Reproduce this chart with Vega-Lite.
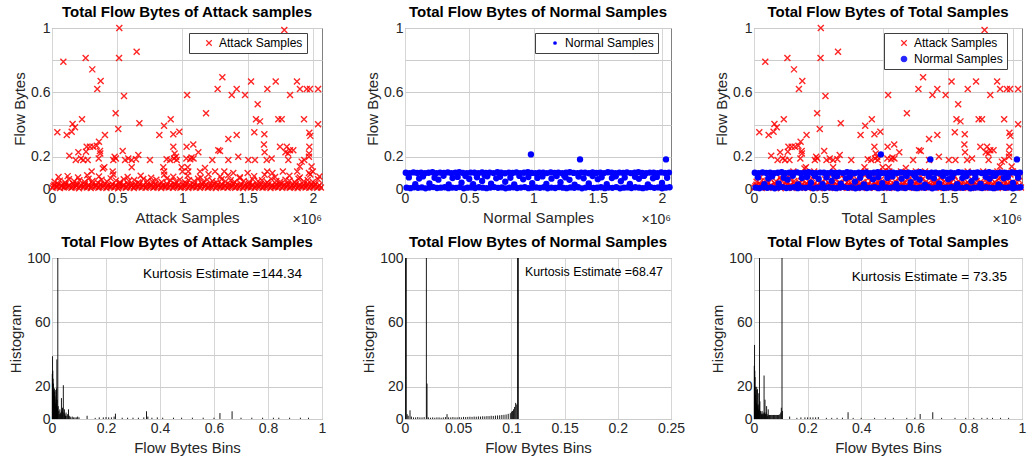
{
"$schema": "https://vega.github.io/schema/vega-lite/v6.json",
"padding": {"left": 8, "top": 4, "right": 0, "bottom": 0},
"config": {
  "font": "Liberation Sans",
  "view": {"stroke": "#808080", "strokeWidth": 1},
  "title": {"fontSize": 15, "fontWeight": "bold", "color": "#000000", "offset": 1},
  "axis": {"domain": false, "grid": true, "gridColor": "#d6d6d6", "gridOpacity": 1, "gridWidth": 1, "ticks": false, "labelFontSize": 14, "labelColor": "#262626", "titleFontSize": 15, "titleFontWeight": "normal", "titleColor": "#262626", "labelFlush": false, "labelOverlap": false},
  "axisX": {"labelPadding": 2, "titlePadding": 5},
  "axisY": {"labelPadding": 2, "titlePadding": 3, "grid": true, "gridColor": "#cccccc"},
  "legend": {"orient": "none", "legendY": 5, "padding": 4, "strokeColor": "#404040", "fillColor": "#ffffff", "labelFontSize": 12, "labelColor": "#000000", "symbolSize": 30, "symbolStrokeWidth": 1.2, "rowPadding": 4, "symbolOffset": 10, "labelOffset": 4}
},
"data": {"values": "s,x,y\na,0.516,1.0\na,0.649,0.853\na,0.087,0.791\na,0.258,0.814\na,0.514,0.814\na,0.309,0.743\na,0.373,0.671\na,0.347,0.621\na,0.552,0.578\na,1.036,0.584\na,0.488,0.47\na,0.23,0.433\na,0.158,0.404\na,0.176,0.383\na,0.67,0.408\na,0.508,0.373\na,0.041,0.352\na,0.113,0.335\na,0.151,0.356\na,0.406,0.335\na,0.859,0.393\na,0.91,0.433\na,0.823,0.335\na,0.93,0.34\na,0.976,0.356\na,0.36,0.294\na,0.343,0.269\na,0.266,0.263\na,0.291,0.263\na,0.317,0.263\na,0.368,0.236\na,0.202,0.228\na,0.261,0.232\na,0.37,0.22\na,0.542,0.236\na,0.133,0.207\na,0.662,0.211\na,0.93,0.263\na,0.94,0.22\na,0.951,0.2\na,0.182,0.18\na,0.222,0.19\na,0.24,0.18\na,0.274,0.18\na,0.358,0.19\na,0.47,0.18\na,0.49,0.19\na,0.48,0.2\na,0.56,0.18\na,0.585,0.19\na,0.611,0.18\na,0.644,0.185\na,0.751,0.18\na,0.879,0.185\na,0.905,0.18\na,0.935,0.19\na,0.956,0.18\na,1.06,0.185\na,0.401,0.135\na,0.39,0.128\na,0.465,0.108\na,0.611,0.135\na,0.853,0.135\na,0.86,0.108\na,0.994,0.135\na,1.0,0.108\na,0.304,0.108\na,1.781,0.988\na,1.306,0.694\na,1.27,0.621\na,1.416,0.621\na,1.378,0.584\na,1.48,0.584\na,1.526,0.667\na,1.651,0.621\na,1.715,0.667\na,1.878,0.667\na,1.901,0.621\na,1.953,0.621\na,1.978,0.621\na,2.04,0.621\na,1.825,0.584\na,1.577,0.526\na,1.181,0.47\na,1.564,0.433\na,1.595,0.42\na,1.735,0.433\na,1.761,0.433\na,1.932,0.433\na,2.04,0.402\na,1.551,0.352\na,1.628,0.34\na,1.973,0.35\na,1.98,0.33\na,1.352,0.31\na,1.416,0.335\na,1.032,0.263\na,1.083,0.277\na,1.122,0.228\na,1.275,0.24\na,1.288,0.236\na,1.625,0.277\na,1.63,0.228\na,1.748,0.263\na,1.8,0.263\na,1.825,0.24\na,1.85,0.24\na,1.79,0.228\na,1.81,0.22\na,1.973,0.263\na,1.97,0.22\na,1.03,0.19\na,1.07,0.195\na,1.085,0.19\na,1.229,0.18\na,1.352,0.18\na,1.428,0.2\na,1.505,0.18\na,1.556,0.18\na,1.646,0.18\na,1.684,0.19\na,1.812,0.18\na,1.914,0.17\na,1.934,0.18\na,1.97,0.2\na,1.04,0.135\na,1.045,0.108\na,1.135,0.108\na,1.173,0.13\na,1.25,0.108\na,1.321,0.108\na,1.39,0.1\na,1.5,0.1\na,1.65,0.108\na,1.69,0.1\na,1.77,0.108\na,1.88,0.108\na,1.97,0.1\na,2.0,0.108\na,1.99,0.14\na,1.9,0.14\na,0.004,0.008\na,0.032,0.012\na,0.061,0.006\na,0.09,0.01\na,0.118,0.013\na,0.149,0.007\na,0.178,0.011\na,0.207,0.005\na,0.239,0.012\na,0.268,0.009\na,0.297,0.006\na,0.327,0.013\na,0.356,0.008\na,0.388,0.011\na,0.417,0.006\na,0.446,0.012\na,0.478,0.009\na,0.507,0.005\na,0.536,0.012\na,0.566,0.008\na,0.598,0.011\na,0.627,0.006\na,0.656,0.013\na,0.688,0.009\na,0.717,0.007\na,0.746,0.012\na,0.777,0.008\na,0.806,0.011\na,0.837,0.006\na,0.866,0.013\na,0.895,0.009\na,0.927,0.007\na,0.956,0.012\na,0.985,0.008\na,1.016,0.011\na,1.045,0.006\na,1.076,0.013\na,1.105,0.009\na,1.134,0.007\na,1.166,0.012\na,1.195,0.008\na,1.224,0.011\na,1.256,0.006\na,1.285,0.013\na,1.314,0.009\na,1.346,0.007\na,1.375,0.012\na,1.404,0.008\na,1.435,0.011\na,1.464,0.006\na,1.495,0.013\na,1.524,0.009\na,1.553,0.007\na,1.585,0.012\na,1.614,0.008\na,1.643,0.011\na,1.675,0.006\na,1.704,0.013\na,1.733,0.009\na,1.765,0.007\na,1.794,0.012\na,1.823,0.008\na,1.854,0.011\na,1.883,0.006\na,1.912,0.013\na,1.944,0.009\na,1.973,0.007\na,2.002,0.012\na,2.033,0.008\na,2.062,0.01\na,0.011,0.017\na,0.04,0.015\na,0.069,0.019\na,0.098,0.016\na,0.127,0.018\na,0.157,0.014\na,0.186,0.02\na,0.215,0.017\na,0.247,0.015\na,0.276,0.019\na,0.305,0.016\na,0.335,0.018\na,0.364,0.014\na,0.396,0.02\na,0.425,0.017\na,0.454,0.015\na,0.486,0.019\na,0.515,0.016\na,0.544,0.018\na,0.574,0.014\na,0.606,0.02\na,0.635,0.017\na,0.664,0.015\na,0.696,0.019\na,0.725,0.016\na,0.754,0.018\na,0.785,0.014\na,0.814,0.02\na,0.845,0.017\na,0.874,0.015\na,0.903,0.019\na,0.935,0.016\na,0.964,0.018\na,0.993,0.014\na,1.024,0.02\na,1.053,0.017\na,1.084,0.015\na,1.113,0.019\na,1.142,0.016\na,1.174,0.018\na,1.203,0.014\na,1.232,0.02\na,1.264,0.017\na,1.293,0.015\na,1.322,0.019\na,1.354,0.016\na,1.383,0.018\na,1.412,0.014\na,1.443,0.02\na,1.472,0.017\na,1.503,0.015\na,1.532,0.019\na,1.561,0.016\na,1.593,0.018\na,1.622,0.014\na,1.651,0.02\na,1.683,0.017\na,1.712,0.015\na,1.741,0.019\na,1.773,0.016\na,1.802,0.018\na,1.831,0.014\na,1.862,0.02\na,1.891,0.017\na,1.92,0.015\na,1.952,0.019\na,1.981,0.016\na,2.01,0.018\na,2.041,0.014\na,0.018,0.026\na,0.047,0.031\na,0.076,0.022\na,0.104,0.029\na,0.133,0.024\na,0.163,0.033\na,0.192,0.027\na,0.223,0.023\na,0.252,0.03\na,0.283,0.025\na,0.311,0.034\na,0.341,0.022\na,0.372,0.028\na,0.401,0.031\na,0.431,0.024\na,0.462,0.029\na,0.492,0.023\na,0.521,0.032\na,0.551,0.026\na,0.582,0.03\na,0.612,0.022\na,0.641,0.028\na,0.672,0.033\na,0.702,0.025\na,0.731,0.029\na,0.762,0.023\na,0.791,0.031\na,0.822,0.027\na,0.851,0.024\na,0.881,0.032\na,0.911,0.026\na,0.941,0.03\na,0.97,0.022\na,1.001,0.028\na,1.03,0.033\na,1.061,0.025\na,1.09,0.029\na,1.12,0.023\na,1.15,0.031\na,1.18,0.027\na,1.21,0.024\na,1.24,0.032\na,1.27,0.026\na,1.3,0.03\na,1.33,0.022\na,1.36,0.028\na,1.39,0.033\na,1.42,0.025\na,1.45,0.029\na,1.48,0.023\na,1.51,0.031\na,1.54,0.027\na,1.57,0.024\na,1.6,0.032\na,1.63,0.026\na,1.66,0.03\na,1.69,0.022\na,1.72,0.028\na,1.75,0.033\na,1.78,0.025\na,1.81,0.029\na,1.84,0.023\na,1.87,0.031\na,1.9,0.027\na,1.93,0.024\na,1.96,0.032\na,1.99,0.026\na,2.02,0.03\na,2.05,0.024\na,0.02,0.045\na,0.06,0.052\na,0.1,0.041\na,0.13,0.06\na,0.17,0.048\na,0.21,0.055\na,0.25,0.043\na,0.28,0.064\na,0.31,0.05\na,0.35,0.04\na,0.38,0.058\na,0.42,0.047\na,0.45,0.066\na,0.49,0.052\na,0.52,0.042\na,0.55,0.06\na,0.59,0.049\na,0.63,0.056\na,0.66,0.041\na,0.7,0.062\na,0.73,0.05\na,0.77,0.045\na,0.8,0.058\na,0.84,0.043\na,0.88,0.065\na,0.91,0.051\na,0.95,0.046\na,0.98,0.059\na,1.02,0.042\na,1.05,0.055\na,1.09,0.048\na,1.12,0.063\na,1.16,0.044\na,1.19,0.057\na,1.23,0.05\na,1.26,0.041\na,1.3,0.061\na,1.33,0.047\na,1.37,0.054\na,1.4,0.044\na,1.44,0.066\na,1.47,0.05\na,1.51,0.043\na,1.54,0.059\na,1.58,0.048\na,1.61,0.055\na,1.65,0.042\na,1.68,0.062\na,1.72,0.049\na,1.75,0.045\na,1.79,0.058\na,1.82,0.051\na,1.86,0.043\na,1.89,0.064\na,1.93,0.047\na,1.96,0.056\na,2.0,0.044\na,2.04,0.06\na,0.05,0.075\na,0.12,0.08\na,0.2,0.072\na,0.27,0.085\na,0.36,0.078\na,0.47,0.09\na,0.58,0.074\na,0.68,0.082\na,0.76,0.07\na,0.86,0.088\na,0.93,0.076\na,1.04,0.083\na,1.14,0.072\na,1.2,0.092\na,1.29,0.078\na,1.35,0.085\na,1.44,0.073\na,1.55,0.08\na,1.63,0.088\na,1.71,0.075\na,1.82,0.082\na,1.9,0.072\na,1.98,0.09\na,2.05,0.078\nn,0.98,0.215\nn,1.362,0.184\nn,2.031,0.184\nn,0.006,0.101\nn,0.036,0.099\nn,0.066,0.103\nn,0.095,0.1\nn,0.125,0.102\nn,0.155,0.098\nn,0.184,0.101\nn,0.214,0.104\nn,0.244,0.099\nn,0.273,0.102\nn,0.303,0.1\nn,0.333,0.103\nn,0.362,0.098\nn,0.392,0.101\nn,0.422,0.104\nn,0.451,0.1\nn,0.481,0.099\nn,0.511,0.102\nn,0.54,0.101\nn,0.57,0.098\nn,0.6,0.103\nn,0.63,0.1\nn,0.659,0.102\nn,0.689,0.099\nn,0.719,0.104\nn,0.748,0.101\nn,0.778,0.098\nn,0.808,0.102\nn,0.837,0.1\nn,0.867,0.103\nn,0.897,0.099\nn,0.926,0.101\nn,0.956,0.104\nn,0.986,0.1\nn,1.015,0.098\nn,1.045,0.102\nn,1.075,0.101\nn,1.104,0.099\nn,1.134,0.103\nn,1.164,0.1\nn,1.193,0.102\nn,1.223,0.098\nn,1.253,0.101\nn,1.282,0.104\nn,1.312,0.1\nn,1.342,0.099\nn,1.371,0.102\nn,1.401,0.101\nn,1.431,0.098\nn,1.46,0.103\nn,1.49,0.1\nn,1.52,0.102\nn,1.549,0.099\nn,1.579,0.104\nn,1.609,0.101\nn,1.638,0.098\nn,1.668,0.102\nn,1.698,0.1\nn,1.727,0.103\nn,1.757,0.099\nn,1.787,0.101\nn,1.816,0.104\nn,1.846,0.1\nn,1.876,0.098\nn,1.905,0.102\nn,1.935,0.101\nn,1.965,0.099\nn,1.994,0.103\nn,2.024,0.1\nn,2.054,0.102\nn,0.012,0.008\nn,0.042,0.005\nn,0.071,0.011\nn,0.101,0.007\nn,0.131,0.01\nn,0.16,0.004\nn,0.19,0.009\nn,0.22,0.012\nn,0.249,0.006\nn,0.279,0.008\nn,0.309,0.011\nn,0.338,0.005\nn,0.368,0.009\nn,0.398,0.007\nn,0.427,0.012\nn,0.457,0.004\nn,0.487,0.008\nn,0.516,0.01\nn,0.546,0.006\nn,0.576,0.011\nn,0.605,0.008\nn,0.635,0.005\nn,0.665,0.009\nn,0.694,0.012\nn,0.724,0.007\nn,0.754,0.01\nn,0.783,0.004\nn,0.813,0.008\nn,0.843,0.011\nn,0.872,0.006\nn,0.902,0.009\nn,0.932,0.012\nn,0.961,0.005\nn,0.991,0.008\nn,1.021,0.01\nn,1.05,0.007\nn,1.08,0.011\nn,1.11,0.004\nn,1.139,0.009\nn,1.169,0.006\nn,1.199,0.012\nn,1.228,0.008\nn,1.258,0.005\nn,1.288,0.01\nn,1.317,0.007\nn,1.347,0.011\nn,1.377,0.004\nn,1.406,0.009\nn,1.436,0.012\nn,1.466,0.006\nn,1.495,0.008\nn,1.525,0.011\nn,1.555,0.005\nn,1.584,0.009\nn,1.614,0.007\nn,1.644,0.012\nn,1.673,0.004\nn,1.703,0.008\nn,1.733,0.01\nn,1.762,0.006\nn,1.792,0.011\nn,1.822,0.008\nn,1.851,0.005\nn,1.881,0.009\nn,1.911,0.012\nn,1.94,0.007\nn,1.97,0.01\nn,2.0,0.004\nn,2.029,0.008\nn,2.059,0.011\nn,0.03,0.072\nn,0.08,0.03\nn,0.11,0.065\nn,0.14,0.078\nn,0.19,0.035\nn,0.23,0.07\nn,0.26,0.058\nn,0.3,0.082\nn,0.34,0.028\nn,0.37,0.068\nn,0.41,0.075\nn,0.44,0.04\nn,0.47,0.08\nn,0.5,0.062\nn,0.53,0.03\nn,0.56,0.073\nn,0.6,0.05\nn,0.64,0.079\nn,0.67,0.033\nn,0.71,0.066\nn,0.74,0.076\nn,0.78,0.045\nn,0.82,0.07\nn,0.85,0.029\nn,0.89,0.081\nn,0.92,0.06\nn,0.96,0.074\nn,0.99,0.036\nn,1.03,0.069\nn,1.07,0.078\nn,1.1,0.031\nn,1.14,0.064\nn,1.18,0.08\nn,1.21,0.042\nn,1.25,0.072\nn,1.28,0.057\nn,1.32,0.027\nn,1.35,0.077\nn,1.39,0.066\nn,1.43,0.034\nn,1.46,0.08\nn,1.5,0.061\nn,1.53,0.073\nn,1.57,0.03\nn,1.61,0.068\nn,1.64,0.079\nn,1.68,0.048\nn,1.71,0.071\nn,1.75,0.032\nn,1.79,0.076\nn,1.82,0.063\nn,1.86,0.081\nn,1.89,0.029\nn,1.93,0.067\nn,1.96,0.075\nn,2.0,0.038\nn,2.04,0.07\nn,0.62,0.084\nn,1.24,0.083\nn,1.85,0.084\nha,0.001,28\nha,0.002,39\nha,0.003,30\nha,0.004,25\nha,0.005,22\nha,0.006,18\nha,0.007,15\nha,0.008,12\nha,0.009,19\nha,0.01,17\nha,0.011,14\nha,0.012,10\nha,0.013,8\nha,0.014,18\nha,0.015,12\nha,0.016,9\nha,0.017,19\nha,0.018,37\nha,0.019,12\nha,0.02,7\nha,0.0215,100\nha,0.023,8\nha,0.025,5\nha,0.027,3\nha,0.029,6\nha,0.031,4\nha,0.033,3\nha,0.035,13\nha,0.037,5\nha,0.039,7\nha,0.042,21\nha,0.044,4\nha,0.046,6\nha,0.048,3\nha,0.05,2\nha,0.052,4\nha,0.055,2\nha,0.058,3\nha,0.061,6\nha,0.064,2\nha,0.067,1.5\nha,0.07,1\nha,0.075,1.5\nha,0.08,1\nha,0.085,1\nha,0.09,1\nha,0.095,1.5\nha,0.1,1\nha,0.13,2\nha,0.16,0.7\nha,0.175,1\nha,0.19,1\nha,0.2,1.2\nha,0.21,1\nha,0.22,1\nha,0.23,1.5\nha,0.235,3.3\nha,0.26,0.8\nha,0.28,0.8\nha,0.3,0.8\nha,0.32,0.8\nha,0.34,1\nha,0.35,4.8\nha,0.355,1.5\nha,0.37,0.8\nha,0.39,1\nha,0.41,0.8\nha,0.45,0.8\nha,0.48,0.8\nha,0.52,0.8\nha,0.56,0.8\nha,0.6,0.8\nha,0.622,3.7\nha,0.667,4.8\nha,0.7,0.8\nha,0.74,0.8\nha,0.78,0.8\nha,0.82,0.8\nha,0.84,0.8\nha,0.88,0.8\nha,0.92,0.8\nha,0.95,0.8\nhn,0.0005,100\nhn,0.0012,100\nhn,0.002,3\nhn,0.003,2\nhn,0.0047,5.4\nhn,0.006,1.5\nhn,0.008,1\nhn,0.01,1\nhn,0.012,1.2\nhn,0.014,1\nhn,0.016,1\nhn,0.018,1.2\nhn,0.0201,100\nhn,0.0207,22\nhn,0.022,1\nhn,0.024,0.8\nhn,0.026,1\nhn,0.028,0.8\nhn,0.03,1\nhn,0.032,1\nhn,0.034,0.8\nhn,0.036,1\nhn,0.038,1.2\nhn,0.0395,3\nhn,0.041,1\nhn,0.043,1\nhn,0.045,1.2\nhn,0.047,1\nhn,0.049,1\nhn,0.051,1.2\nhn,0.053,1\nhn,0.055,1.3\nhn,0.057,1.2\nhn,0.059,1.3\nhn,0.061,1.4\nhn,0.063,1.3\nhn,0.065,1.5\nhn,0.067,1.4\nhn,0.069,1.6\nhn,0.071,1.5\nhn,0.073,1.7\nhn,0.075,1.6\nhn,0.077,1.8\nhn,0.079,1.8\nhn,0.081,2\nhn,0.083,1.9\nhn,0.085,2.1\nhn,0.087,2.2\nhn,0.089,2.3\nhn,0.091,2.5\nhn,0.093,2.6\nhn,0.095,2.8\nhn,0.097,3.2\nhn,0.099,3.6\nhn,0.1,4.5\nhn,0.101,5\nhn,0.102,6\nhn,0.103,7.5\nhn,0.104,10\nhn,0.105,9\nhn,0.1058,100\nhn,0.1065,100\nht,0.001,33\nht,0.002,46\nht,0.003,30\nht,0.004,26\nht,0.005,20\nht,0.006,15\nht,0.007,12\nht,0.008,18\nht,0.009,10\nht,0.01,20\nht,0.011,9\nht,0.012,8\nht,0.013,18.5\nht,0.014,7\nht,0.015,6\nht,0.016,9\nht,0.017,5\nht,0.018,16\nht,0.019,6\nht,0.0205,100\nht,0.022,11\nht,0.024,5\nht,0.026,4\nht,0.028,3\nht,0.03,5\nht,0.032,3\nht,0.034,4\nht,0.036,3\nht,0.0376,27\nht,0.039,4\nht,0.041,12\nht,0.043,3\nht,0.045,4\nht,0.047,8\nht,0.049,3\nht,0.051,2\nht,0.053,6\nht,0.055,2.5\nht,0.058,2.5\nht,0.061,2.5\nht,0.064,2.5\nht,0.067,2.5\nht,0.07,2.5\nht,0.073,2.5\nht,0.076,2.5\nht,0.079,2.5\nht,0.082,2.5\nht,0.085,2.5\nht,0.088,2.5\nht,0.091,2.5\nht,0.094,2.6\nht,0.097,3\nht,0.1,4\nht,0.102,7\nht,0.1045,100\nht,0.106,5\nht,0.133,1.5\nht,0.16,0.7\nht,0.175,1\nht,0.19,1\nht,0.2,1\nht,0.21,1\nht,0.22,1\nht,0.23,1\nht,0.24,1.2\nht,0.27,0.7\nht,0.29,0.7\nht,0.31,0.7\nht,0.33,0.8\nht,0.351,4.2\nht,0.37,0.7\nht,0.4,0.7\nht,0.45,0.7\nht,0.49,0.7\nht,0.52,0.7\nht,0.57,0.7\nht,0.6,0.8\nht,0.62,3.1\nht,0.667,4.2\nht,0.7,0.7\nht,0.75,0.7\nht,0.79,0.7\nht,0.82,0.7\nht,0.85,0.7\nht,0.87,0.7\nht,0.89,0.7\nht,0.92,0.7\nht,0.95,0.7", "format": {"type": "csv", "parse": {"x": "number", "y": "number"}}},
"columns": 3,
"spacing": {"row": 69, "column": 83},
"bounds": "flush",
"resolve": {"scale": {"x": "independent", "y": "independent", "color": "independent", "shape": "independent"}, "legend": {"color": "independent", "shape": "independent"}},
"concat": [
 {
  "width": 270, "height": 161,
  "title": "Total Flow Bytes of Attack samples",
  "resolve": {"axis": {"y": "independent"}},
  "layer": [
   {"transform": [{"filter": "datum.s == 'a'"}],
    "mark": {"type": "point", "filled": false, "strokeWidth": 1.4, "size": 36, "opacity": 0.85},
    "encoding": {
     "x": {"field": "x", "type": "quantitative", "scale": {"domain": [0, 2.07], "nice": false, "zero": false}, "axis": {"title": "Attack Samples", "values": [0, 0.5, 1, 1.5, 2], "format": "~g"}},
     "y": {"field": "y", "type": "quantitative", "scale": {"domain": [0, 1], "nice": false}, "axis": {"title": "Flow Bytes", "values": [0, 0.2, 0.6, 1], "format": "~g", "labelOverlap": false, "grid": true}},
     "color": {"field": "s", "type": "nominal", "scale": {"domain": ["a"], "range": ["#ff0000"]}, "legend": {"title": null, "legendX": 137, "labelExpr": "datum.value == 'a' ? 'Attack Samples' : 'Normal Samples'"}},
     "shape": {"field": "s", "type": "nominal", "scale": {"domain": ["a"], "range": ["M-1,-1L1,1M-1,1L1,-1"]}, "legend": {"title": null, "legendX": 137, "labelExpr": "datum.value == 'a' ? 'Attack Samples' : 'Normal Samples'"}}
    }},
   {"data": {"values": [{}]},
    "mark": {"type": "text", "align": "right", "baseline": "alphabetic", "dy": 35, "fontSize": 14, "color": "#262626"},
    "encoding": {"x": {"datum": 2.07}, "y": {"datum": 0, "axis": {"values": [0.4, 0.8], "labels": false, "title": null, "grid": true, "orient": "left"}}, "text": {"value": "×10⁶"}}}
  ]
 },
 {
  "width": 266, "height": 161,
  "title": "Total Flow Bytes of Normal Samples",
  "resolve": {"axis": {"y": "independent"}},
  "layer": [
   {"transform": [{"filter": "datum.s == 'n'"}],
    "mark": {"type": "point", "filled": true, "size": 40, "opacity": 1},
    "encoding": {
     "x": {"field": "x", "type": "quantitative", "scale": {"domain": [0, 2.07], "nice": false, "zero": false}, "axis": {"title": "Normal Samples", "values": [0, 0.5, 1, 1.5, 2], "format": "~g"}},
     "y": {"field": "y", "type": "quantitative", "scale": {"domain": [0, 1], "nice": false}, "axis": {"title": "Flow Bytes", "values": [0, 0.2, 0.6, 1], "format": "~g", "labelOverlap": false, "grid": true}},
     "color": {"field": "s", "type": "nominal", "scale": {"domain": ["n"], "range": ["#0000ff"]}, "legend": {"title": null, "legendX": 130, "symbolSize": 14, "labelExpr": "datum.value == 'a' ? 'Attack Samples' : 'Normal Samples'"}},
     "shape": {"field": "s", "type": "nominal", "scale": {"domain": ["n"], "range": ["circle"]}, "legend": {"title": null, "legendX": 130, "symbolSize": 14, "labelExpr": "datum.value == 'a' ? 'Attack Samples' : 'Normal Samples'"}}
    }},
   {"data": {"values": [{}]},
    "mark": {"type": "text", "align": "right", "baseline": "alphabetic", "dy": 35, "fontSize": 14, "color": "#262626"},
    "encoding": {"x": {"datum": 2.07}, "y": {"datum": 0, "axis": {"values": [0.4, 0.8], "labels": false, "title": null, "grid": true, "orient": "left"}}, "text": {"value": "×10⁶"}}}
  ]
 },
 {
  "width": 268, "height": 161,
  "title": "Total Flow Bytes of Total Samples",
  "resolve": {"axis": {"y": "independent"}},
  "layer": [
   {"transform": [{"filter": "datum.s == 'a'"}],
    "mark": {"type": "point", "filled": false, "strokeWidth": 1.4, "size": 36, "opacity": 0.85},
    "encoding": {
     "x": {"field": "x", "type": "quantitative", "scale": {"domain": [0, 2.07], "nice": false, "zero": false}, "axis": {"title": "Total Samples", "values": [0, 0.5, 1, 1.5, 2], "format": "~g"}},
     "y": {"field": "y", "type": "quantitative", "scale": {"domain": [0, 1], "nice": false}, "axis": {"title": "Flow Bytes", "values": [0, 0.2, 0.6, 1], "format": "~g", "labelOverlap": false, "grid": true}},
     "color": {"field": "s", "type": "nominal", "scale": {"domain": ["a", "n"], "range": ["#ff0000", "#0000ff"]}, "legend": {"title": null, "legendX": 130, "labelExpr": "datum.value == 'a' ? 'Attack Samples' : 'Normal Samples'"}},
     "shape": {"field": "s", "type": "nominal", "scale": {"domain": ["a", "n"], "range": ["M-1,-1L1,1M-1,1L1,-1", "circle"]}, "legend": {"title": null, "legendX": 130, "labelExpr": "datum.value == 'a' ? 'Attack Samples' : 'Normal Samples'"}}
    }},
   {"transform": [{"filter": "datum.s == 'n'"}],
    "mark": {"type": "point", "filled": true, "size": 40, "opacity": 1},
    "encoding": {
     "x": {"field": "x", "type": "quantitative"},
     "y": {"field": "y", "type": "quantitative", "axis": null},
     "color": {"field": "s", "type": "nominal"},
     "shape": {"field": "s", "type": "nominal"}
    }},
   {"data": {"values": [{}]},
    "mark": {"type": "text", "align": "right", "baseline": "alphabetic", "dy": 35, "fontSize": 14, "color": "#262626"},
    "encoding": {"x": {"datum": 2.07}, "y": {"datum": 0, "axis": {"values": [0.4, 0.8], "labels": false, "title": null, "grid": true, "orient": "left"}}, "text": {"value": "×10⁶"}}}
  ]
 },
 {
  "width": 270, "height": 161,
  "title": "Total Flow Bytes of Attack Samples",
  "resolve": {"axis": {"y": "independent"}},
  "layer": [
   {"transform": [{"filter": "datum.s == 'ha'"}],
    "mark": {"type": "rule", "color": "#000000", "strokeWidth": 0.9},
    "encoding": {
     "x": {"field": "x", "type": "quantitative", "scale": {"domain": [0, 1], "nice": false}, "axis": {"title": "Flow Bytes Bins", "values": [0, 0.2, 0.4, 0.6, 0.8, 1], "format": "~g"}},
     "y": {"field": "y", "type": "quantitative", "scale": {"domain": [0, 100], "nice": false}, "axis": {"title": "Histogram", "values": [0, 20, 60, 100], "labelOverlap": false, "grid": true}},
     "y2": {"datum": 0}
    }},
   {"data": {"values": [{}]},
    "mark": {"type": "text", "align": "right", "baseline": "middle", "fontSize": 13.6, "color": "#000000"},
    "encoding": {"x": {"datum": 0.926}, "y": {"datum": 90, "axis": {"values": [40, 80], "labels": false, "title": null, "grid": true, "orient": "left"}}, "text": {"value": "Kurtosis Estimate =144.34"}}}
  ]
 },
 {
  "width": 266, "height": 161,
  "title": "Total Flow Bytes of Normal Samples",
  "resolve": {"axis": {"y": "independent"}},
  "layer": [
   {"transform": [{"filter": "datum.s == 'hn'"}],
    "mark": {"type": "rule", "color": "#000000", "strokeWidth": 0.9},
    "encoding": {
     "x": {"field": "x", "type": "quantitative", "scale": {"domain": [0, 0.25], "nice": false}, "axis": {"title": "Flow Bytes Bins", "values": [0, 0.05, 0.1, 0.15, 0.2, 0.25], "format": "~g"}},
     "y": {"field": "y", "type": "quantitative", "scale": {"domain": [0, 100], "nice": false}, "axis": {"title": "Histogram", "values": [0, 20, 60, 100], "labelOverlap": false, "grid": true}},
     "y2": {"datum": 0}
    }},
   {"data": {"values": [{}]},
    "mark": {"type": "text", "align": "right", "baseline": "middle", "fontSize": 12.4, "color": "#000000"},
    "encoding": {"x": {"datum": 0.2425}, "y": {"datum": 91, "axis": {"values": [40, 80], "labels": false, "title": null, "grid": true, "orient": "left"}}, "text": {"value": "Kurtosis Estimate =68.47"}}}
  ]
 },
 {
  "width": 268, "height": 161,
  "title": "Total Flow Bytes of Total Samples",
  "resolve": {"axis": {"y": "independent"}},
  "layer": [
   {"transform": [{"filter": "datum.s == 'ht'"}],
    "mark": {"type": "rule", "color": "#000000", "strokeWidth": 0.9},
    "encoding": {
     "x": {"field": "x", "type": "quantitative", "scale": {"domain": [0, 1], "nice": false}, "axis": {"title": "Flow Bytes Bins", "values": [0, 0.2, 0.4, 0.6, 0.8, 1], "format": "~g"}},
     "y": {"field": "y", "type": "quantitative", "scale": {"domain": [0, 100], "nice": false}, "axis": {"title": "Histogram", "values": [0, 20, 60, 100], "labelOverlap": false, "grid": true}},
     "y2": {"datum": 0}
    }},
   {"data": {"values": [{}]},
    "mark": {"type": "text", "align": "right", "baseline": "middle", "fontSize": 13.6, "color": "#000000"},
    "encoding": {"x": {"datum": 0.944}, "y": {"datum": 88, "axis": {"values": [40, 80], "labels": false, "title": null, "grid": true, "orient": "left"}}, "text": {"value": "Kurtosis Estimate = 73.35"}}}
  ]
 }
]
}
